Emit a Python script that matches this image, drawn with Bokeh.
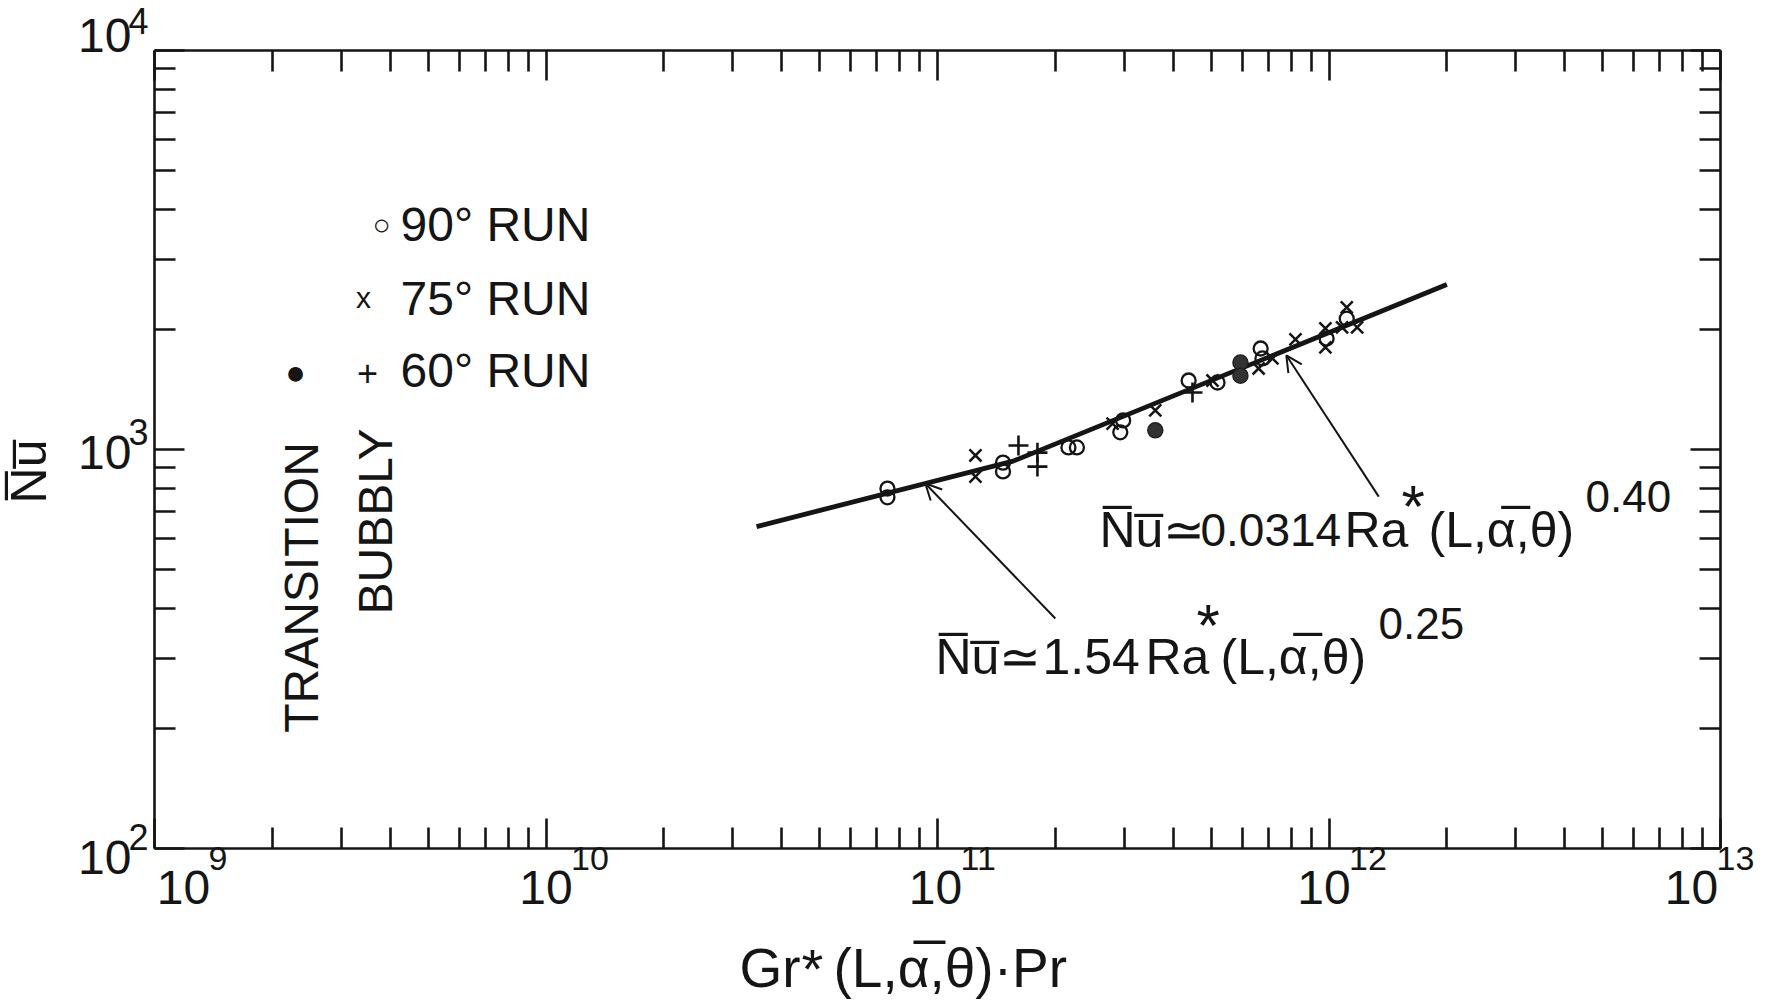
import math
from bokeh.plotting import figure
from bokeh.models import (Label, Arrow, OpenHead, LogAxis, FixedTicker, Range1d,
                          CustomJSTickFormatter)
from bokeh.embed import file_html
from bokeh.resources import INLINE

# ---------------- data ----------------
# 90 deg run (open circles)
gr_90 = [7.45e10, 7.45e10, 1.47e11, 1.47e11, 2.16e11, 2.27e11, 2.98e11, 2.93e11,
         4.38e11, 5.19e11, 6.69e11, 6.76e11, 9.86e11, 1.11e12]
nu_90 = [798, 759, 927, 881, 1012, 1012, 1183, 1104,
         1489, 1472, 1791, 1691, 1897, 2128]
# 75 deg run (x)
gr_75 = [1.25e11, 1.25e11, 2.80e11, 3.60e11, 5.04e11, 6.61e11, 7.17e11, 8.21e11,
         9.79e11, 9.79e11, 1.11e12, 1.18e12, 1.08e12]
nu_75 = [966, 855, 1161, 1253, 1489, 1596, 1691, 1888,
         2011, 1803, 2270, 2023, 2023]
# 60 deg run (+)
gr_60 = [1.61e11, 1.80e11, 1.80e11, 4.48e11]
nu_60 = [1023, 982, 906, 1390]
# transition (filled circles)
gr_tr = [3.60e11, 5.94e11, 5.94e11]
nu_tr = [1117, 1652, 1531]
# correlation line (1.54 Ra^0.25 branch, then 0.0314 Ra^0.40 branch)
fit_gr = [3.45e10, 1.56e11, 2.0e12]
fit_nu = [641, 935, 2591]
# arrows (tail -> tip)
arrow_low_gr = [2.0e11, 9.31e10]
arrow_low_nu = [377, 822]
arrow_high_gr = [1.34e12, 7.78e11]
arrow_high_nu = [762, 1722]
# tick decades
x_decades = [9, 10, 11, 12, 13]
y_decades = [2, 3, 4]

# ---------------- layout constants (page pixels) ----------------
FONT = "Liberation Sans"
INK = "#151515"
FIG_W, FIG_H = 1765, 1000
BOX_L, BOX_R, BOX_T, BOX_B = 154, 1720, 50, 848
# hand-lettered tick labels sit a little irregularly
x10_dx = [29, 0, -2, -5, -29]
y10_dy = [9, 3, -15]
yexp_dy = [-12, -18, -30]

XA, XB = 10.0 ** x_decades[0], 10.0 ** x_decades[-1]
YA, YB = 10.0 ** y_decades[0], 10.0 ** y_decades[-1]
px_xdec = (BOX_R - BOX_L) / (x_decades[-1] - x_decades[0])
px_ydec = (BOX_B - BOX_T) / (y_decades[-1] - y_decades[0])

x_range = Range1d(10 ** (x_decades[0] - BOX_L / px_xdec),
                  10 ** (x_decades[-1] + (FIG_W - BOX_R) / px_xdec))
y_range = Range1d(10 ** (y_decades[0] - (FIG_H - BOX_B) / px_ydec),
                  10 ** (y_decades[-1] + BOX_T / px_ydec))

p = figure(x_axis_type="log", y_axis_type="log",
           x_axis_location=None, y_axis_location=None,
           x_range=x_range, y_range=y_range,
           width=FIG_W, height=FIG_H,
           min_border=0, min_border_left=0, min_border_right=0,
           min_border_top=0, min_border_bottom=0,
           output_backend="svg", toolbar_location=None)
p.background_fill_color = "white"
p.border_fill_color = "white"
p.outline_line_color = None
p.grid.visible = False

x_ticker = FixedTicker(ticks=[10.0 ** e for e in x_decades],
                       minor_ticks=[k * 10.0 ** e for e in x_decades[:-1] for k in range(2, 10)])
y_ticker = FixedTicker(ticks=[10.0 ** e for e in y_decades],
                       minor_ticks=[k * 10.0 ** e for e in y_decades[:-1] for k in range(2, 10)])

for side, loc, tk, bounds in [("below", YA, x_ticker, (XA, XB)),
                              ("above", YB, x_ticker, (XA, XB)),
                              ("left", XA, y_ticker, (YA, YB)),
                              ("right", XB, y_ticker, (YA, YB))]:
    ax = LogAxis(fixed_location=loc, ticker=tk, bounds=bounds)
    ax.formatter = CustomJSTickFormatter(code="return ''")
    ax.major_label_text_font_size = "0px"
    ax.major_label_standoff = 0
    ax.axis_line_width = 2.6
    ax.axis_line_color = INK
    ax.major_tick_in = 30
    ax.major_tick_out = 0
    ax.minor_tick_in = 21
    ax.minor_tick_out = 0
    ax.major_tick_line_width = 2.6
    ax.minor_tick_line_width = 2.6
    ax.major_tick_line_color = INK
    ax.minor_tick_line_color = INK
    p.add_layout(ax, side)

# ---------------- glyphs ----------------
p.line(fit_gr, fit_nu, line_width=4.8, line_color=INK)
p.scatter(gr_90, nu_90, marker="circle", size=14, fill_color=None,
          line_color=INK, line_width=2.3)
p.scatter(gr_75, nu_75, marker="x", size=17, line_color=INK, line_width=2.5)
p.scatter(gr_60, nu_60, marker="cross", size=20, line_color=INK, line_width=2.6)
p.scatter(gr_tr, nu_tr, marker="circle", size=15, fill_color="#333333",
          line_color="#222222", line_width=1.5)

for gx, ny in [(arrow_low_gr, arrow_low_nu), (arrow_high_gr, arrow_high_nu)]:
    p.add_layout(Arrow(end=OpenHead(size=16, line_width=2, line_color=INK),
                       x_start=gx[0], y_start=ny[0], x_end=gx[1], y_end=ny[1],
                       line_width=2, line_color=INK))


# ---------------- text ----------------
def put(text, X, Y, size, align="left", baseline="alphabetic", angle=0.0):
    """Place text at page pixel (X, Y), measured from the box corner."""
    p.add_layout(Label(x=XA, y=YB, x_offset=X - BOX_L, y_offset=-(Y - BOX_T),
                       text=text, text_font=FONT, text_font_size=f"{size}px",
                       text_align=align, text_baseline=baseline, angle=angle,
                       text_color=INK))


def tick_label(text, x, y, dx, dy, size, align):
    p.add_layout(Label(x=x, y=y, x_offset=dx, y_offset=-dy, text=text,
                       text_font=FONT, text_font_size=f"{size}px",
                       text_align=align, text_baseline="middle", text_color=INK))


for e, d10, dexp in zip(y_decades, y10_dy, yexp_dy):
    tick_label("10", XA, 10.0 ** e, 131 - BOX_L, d10, 48, "right")
    tick_label(str(e), XA, 10.0 ** e, 128 - BOX_L, dexp, 36, "left")
for e, dx in zip(x_decades, x10_dx):
    tick_label("10", 10.0 ** e, YA, dx, 39, 48, "center")
    tick_label(str(e), 10.0 ** e, YA, dx + 25, 10, 34, "left")

OV = "\u0305"
NU = "N" + OV + "u" + OV
ALPHA = "\u03b1" + OV

# axis titles
put(NU, 28, 471, 50, align="center", baseline="middle", angle=math.pi / 2)
put("Gr", 739, 967, 55)
put("*", 812, 968, 56, align="center", baseline="middle")
put(f"(L,{ALPHA},\u03b8)\u00b7Pr", 833, 967, 55)

# legend
put("\u25cb", 381, 224, 30, align="center", baseline="middle")
put("90\u00b0 RUN", 400, 224, 48)
put("x", 363, 297, 30, align="center", baseline="middle")
put("75\u00b0 RUN", 400, 298, 48)
put("\u25cf", 295, 371, 34, align="center", baseline="middle")
put("+", 367, 372, 36, align="center", baseline="middle")
put("60\u00b0 RUN", 400, 370, 48)
put("TRANSITION", 301, 587, 48, align="center", baseline="middle", angle=math.pi / 2)
put("BUBBLY", 375, 521, 48, align="center", baseline="middle", angle=math.pi / 2)

# correlation formulas
put(NU + "\u2243", 1099, 529, 50)
put("0.0314", 1200, 529, 46)
put("Ra", 1344, 529, 50)
put("*", 1401, 506, 60)
put(f"(L,{ALPHA},\u03b8)", 1428, 529, 50)
put("0.40", 1585, 496, 44)

put(NU + "\u2243", 935, 656, 50)
put("1.54", 1042, 656, 50)
put("Ra", 1145, 656, 50)
put("*", 1196, 625, 60)
put(f"(L,{ALPHA},\u03b8)", 1220, 656, 50)
put("0.25", 1378, 623, 44)

open("out.html", "w").write(file_html(p, INLINE))
